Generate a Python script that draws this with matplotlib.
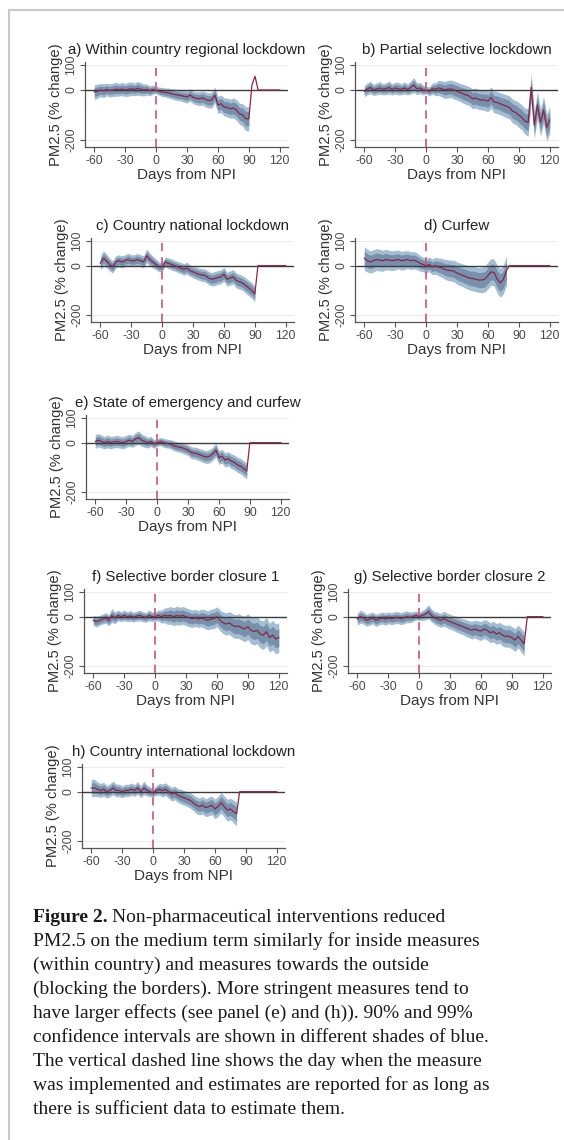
import numpy as np
import matplotlib.pyplot as plt
from matplotlib.lines import Line2D

# days from NPI, every 3 days
days = list(range(-60, 121, 3))

titles = ["a) Within country regional lockdown", "b) Partial selective lockdown",
          "c) Country national lockdown", "d) Curfew",
          "e) State of emergency and curfew",
          "f) Selective border closure 1", "g) Selective border closure 2",
          "h) Country international lockdown"]

# point estimates (% change of PM2.5)
est_a = [-8, -5, 0, -3, 2, -2, 0, 3, 1, 4, 0, 3, 5, 2, 7, 3, 0, 2, -3, 2, 0,
         -5, -8, -10, -12, -15, -18, -20, -22, -25, -28,
         -20, -30, -33, -35, -32, -38, -42, -40, -20, -60,
         -55, -68, -70, -75, -72, -80, -95, -100, -115, -115,
         20, 55, 0, 0, 0, 0, 0, 0, 0, 0]
est_b = [-5, 5, 10, 0, 5, 8, 3, 5, 10, 2, 8, 5, 3, 8, 2, 10, 20, 5, 8, 0, 0,
         -5, 5, 3, 8, 5, 0, 3, 5, 0, -5,
         -10, -15, -20, -25, -35, -32, -38, -40, -40, -45,
         -30, -48, -50, -55, -60, -65, -70, -85, -90, -100,
         -110, -125, -130, 10, -140, -60, -130, -80, -150, -120]
est_c = [10, 30, 20, 5, -5, 15, 20, 15, 20, 25, 20, 20, 25, 20, 15, 40, 25, 15, 5, -5, -5,
         15, 10, 5, 0, -5, -10, -15, -10, -20, -25,
         -30, -35, -38, -40, -50, -55, -52, -48, -45, -35,
         -55, -50, -45, -60, -65, -70, -80, -90, -100, -115,
         0, 0, 0, 0, 0, 0, 0, 0, 0, 0]
est_d = [30, 20, 15, 20, 25, 22, 20, 25, 22, 20, 22, 25, 20, 22, 25, 20, 22, 18, 10, 5, 0,
         5, -5, 0, -5, -8, -15, -18, -20, -22, -30,
         -35, -40, -45, -50, -52, -55, -58, -58, -55, -40,
         -25, -28, -55, -70, -55, -20, 0, 0, 0, 0,
         0, 0, 0, 0, 0, 0, 0, 0, 0, 0]
est_e = [5, 10, 5, 0, 5, 0, 3, 5, 2, 0, 5, 10, 5, 15, 20, 10, 5, 0, 5, -5, 0,
         5, 0, -3, -5, -10, -15, -18, -20, -25, -30,
         -40, -42, -45, -50, -55, -58, -55, -45, -30, -60,
         -55, -70, -65, -75, -80, -90, -95, -105, -115, 0,
         0, 0, 0, 0, 0, 0, 0, 0, 0, 0]
est_f = [-15, -20, -15, -10, -5, -15, 5, -5, 5, 0, 5, 0, 3, -2, 2, 5, 0, -3, 5, 0, 0,
         5, 0, 5, 3, 5, 0, 5, 2, 5, 0,
         -5, -8, -5, -10, -5, -10, -15, -10, -8, 0,
         -15, -25, -30, -25, -35, -40, -38, -45, -50, -40,
         -55, -60, -55, -70, -75, -60, -85, -75, -90, -85]
est_g = [-10, 0, -5, -15, -10, -5, -15, -10, -5, -10, -5, -8, -5, -3, -8, -5, 0, -3, 0, 5, 0,
         5, 10, 20, 5, -5, -10, -15, -8, -15, -20,
         -25, -30, -35, -40, -45, -50, -55, -50, -55, -58,
         -50, -55, -65, -60, -70, -65, -75, -80, -78, -85,
         -95, -80, -95, -110, 0, 0, 0, 0, 0, 0]
est_h = [15, 15, 10, 5, 10, 0, 5, 15, 5, 5, 0, 5, 5, 10, 5, 15, 0, 15, 5, 0, -5,
         5, 10, 5, 10, 0, -10, -5, -15, -20, -25,
         -30, -35, -45, -55, -60, -55, -65, -60, -55, -70,
         -60, -45, -60, -75, -70, -80, -90, 0, 0, 0,
         0, 0, 0, 0, 0, 0, 0, 0, 0, 0]

# half widths of the 99% confidence band
w99_a = [30, 28, 26, 28, 25, 27, 26, 28, 25, 27, 26, 28, 27, 25, 28, 26, 24, 22, 20, 18, 15,
         16, 18, 18, 20, 20, 22, 22, 22, 24, 24,
         25, 25, 26, 28, 28, 30, 30, 32, 32, 34,
         35, 36, 38, 38, 40, 42, 42, 45, 48, 48,
         0, 0, 0, 0, 0, 0, 0, 0, 0, 0]
w99_b = [22, 24, 25, 22, 24, 25, 22, 24, 26, 22, 24, 25, 22, 24, 22, 26, 30, 24, 22, 20, 15,
         18, 22, 26, 30, 32, 34, 35, 35, 36, 36,
         36, 38, 38, 38, 40, 40, 40, 40, 42, 42,
         42, 44, 44, 44, 45, 46, 46, 48, 48, 50,
         50, 52, 55, 55, 55, 55, 55, 55, 55, 55]
w99_c = [28, 30, 28, 26, 25, 25, 24, 25, 24, 25, 24, 24, 25, 24, 25, 28, 26, 24, 22, 20, 18,
         20, 22, 22, 22, 22, 23, 23, 24, 24, 24,
         25, 25, 26, 26, 27, 27, 28, 28, 28, 28,
         28, 29, 29, 30, 30, 30, 31, 31, 32, 32,
         0, 0, 0, 0, 0, 0, 0, 0, 0, 0]
w99_d = [48, 46, 45, 45, 44, 44, 42, 42, 40, 40, 40, 38, 38, 38, 36, 36, 35, 34, 32, 30, 28,
         30, 32, 34, 36, 38, 40, 42, 42, 44, 45,
         46, 46, 48, 48, 50, 50, 50, 52, 52, 54,
         54, 55, 56, 58, 58, 60, 0, 0, 0, 0,
         0, 0, 0, 0, 0, 0, 0, 0, 0, 0]
w99_e = [28, 27, 26, 25, 26, 25, 24, 25, 24, 25, 24, 25, 24, 26, 28, 25, 24, 22, 20, 18, 15,
         16, 18, 18, 18, 20, 20, 20, 22, 22, 22,
         24, 24, 25, 25, 26, 26, 27, 27, 28, 28,
         28, 29, 29, 30, 30, 31, 31, 32, 32, 0,
         0, 0, 0, 0, 0, 0, 0, 0, 0, 0]
w99_f = [20, 22, 20, 20, 22, 22, 28, 24, 22, 20, 22, 20, 22, 20, 20, 22, 20, 20, 22, 20, 18,
         22, 26, 30, 34, 36, 36, 38, 36, 36, 36,
         36, 35, 35, 34, 36, 38, 38, 40, 40, 40,
         42, 44, 45, 46, 48, 48, 50, 50, 52, 52,
         54, 55, 55, 56, 58, 58, 58, 60, 60, 60]
w99_g = [25, 26, 25, 24, 25, 24, 25, 24, 24, 25, 24, 24, 25, 24, 24, 25, 24, 22, 20, 18, 16,
         20, 24, 28, 26, 26, 28, 28, 30, 30, 30,
         30, 32, 32, 32, 34, 34, 36, 36, 38, 38,
         38, 40, 40, 42, 42, 42, 44, 44, 45, 45,
         46, 46, 48, 48, 0, 0, 0, 0, 0, 0]
w99_h = [35, 35, 30, 28, 28, 26, 26, 28, 26, 25, 24, 25, 25, 25, 24, 26, 24, 28, 22, 20, 16,
         20, 24, 26, 26, 26, 28, 28, 28, 30, 30,
         30, 32, 32, 34, 34, 36, 36, 38, 38, 40,
         40, 42, 42, 44, 44, 46, 48, 0, 0, 0,
         0, 0, 0, 0, 0, 0, 0, 0, 0, 0]

# half widths of the 90% confidence band
w90_a = [18, 17, 16, 17, 15, 16, 16, 17, 15, 16, 16, 17, 16, 15, 17, 16, 14, 13, 12, 11, 9,
         10, 11, 11, 12, 12, 13, 13, 13, 14, 14,
         15, 15, 16, 17, 17, 18, 18, 19, 19, 20,
         21, 22, 23, 23, 24, 25, 25, 27, 29, 29,
         0, 0, 0, 0, 0, 0, 0, 0, 0, 0]
w90_b = [13, 14, 15, 13, 14, 15, 13, 14, 16, 13, 14, 15, 13, 14, 13, 16, 18, 14, 13, 12, 9,
         11, 13, 16, 18, 19, 20, 21, 21, 22, 22,
         22, 23, 23, 23, 24, 24, 24, 24, 25, 25,
         25, 26, 26, 26, 27, 28, 28, 29, 29, 30,
         30, 31, 33, 33, 33, 33, 33, 33, 33, 33]
w90_c = [17, 18, 17, 16, 15, 15, 14, 15, 14, 15, 14, 14, 15, 14, 15, 17, 16, 14, 13, 12, 11,
         12, 13, 13, 13, 13, 14, 14, 14, 14, 14,
         15, 15, 16, 16, 16, 16, 17, 17, 17, 17,
         17, 17, 17, 18, 18, 18, 19, 19, 19, 19,
         0, 0, 0, 0, 0, 0, 0, 0, 0, 0]
w90_d = [29, 28, 27, 27, 26, 26, 25, 25, 24, 24, 24, 23, 23, 23, 22, 22, 21, 20, 19, 18, 17,
         18, 19, 20, 22, 23, 24, 25, 25, 26, 27,
         28, 28, 29, 29, 30, 30, 30, 31, 31, 32,
         32, 33, 34, 35, 35, 36, 0, 0, 0, 0,
         0, 0, 0, 0, 0, 0, 0, 0, 0, 0]
w90_e = [17, 16, 16, 15, 16, 15, 14, 15, 14, 15, 14, 15, 14, 16, 17, 15, 14, 13, 12, 11, 9,
         10, 11, 11, 11, 12, 12, 12, 13, 13, 13,
         14, 14, 15, 15, 16, 16, 16, 16, 17, 17,
         17, 17, 17, 18, 18, 19, 19, 19, 19, 0,
         0, 0, 0, 0, 0, 0, 0, 0, 0, 0]
w90_f = [12, 13, 12, 12, 13, 13, 17, 14, 13, 12, 13, 12, 13, 12, 12, 13, 12, 12, 13, 12, 11,
         13, 16, 18, 20, 22, 22, 23, 22, 22, 22,
         22, 21, 21, 20, 22, 23, 23, 24, 24, 24,
         25, 26, 27, 28, 29, 29, 30, 30, 31, 31,
         32, 33, 33, 34, 35, 35, 35, 36, 36, 36]
w90_g = [15, 16, 15, 14, 15, 14, 15, 14, 14, 15, 14, 14, 15, 14, 14, 15, 14, 13, 12, 11, 10,
         12, 14, 17, 16, 16, 17, 17, 18, 18, 18,
         18, 19, 19, 19, 20, 20, 22, 22, 23, 23,
         23, 24, 24, 25, 25, 25, 26, 26, 27, 27,
         28, 28, 29, 29, 0, 0, 0, 0, 0, 0]
w90_h = [21, 21, 18, 17, 17, 16, 16, 17, 16, 15, 14, 15, 15, 15, 14, 16, 14, 17, 13, 12, 10,
         12, 14, 16, 16, 16, 17, 17, 17, 18, 18,
         18, 19, 19, 20, 20, 22, 22, 23, 23, 24,
         24, 25, 25, 26, 26, 28, 29, 0, 0, 0,
         0, 0, 0, 0, 0, 0, 0, 0, 0, 0]

ests = [est_a, est_b, est_c, est_d, est_e, est_f, est_g, est_h]
w99s = [w99_a, w99_b, w99_c, w99_d, w99_e, w99_f, w99_g, w99_h]
w90s = [w90_a, w90_b, w90_c, w90_d, w90_e, w90_f, w90_g, w90_h]

xticks = [-60, -30, 0, 30, 60, 90, 120]
yticks = [100, 0, -200]

caption = ["PM2.5 on the medium term similarly for inside measures",
           "(within country) and measures towards the outside",
           "(blocking the borders). More stringent measures tend to",
           "have larger effects (see panel (e) and (h)). 90% and 99%",
           "confidence intervals are shown in different shades of blue.",
           "The vertical dashed line shows the day when the measure",
           "was implemented and estimates are reported for as long as",
           "there is sufficient data to estimate them."]

W, H = 564, 1140
# axes boxes in pixels: left, right, top, bottom
boxes = [(85, 288, 62, 147), (355, 558, 62, 147),
         (91, 294, 238, 322), (355, 558, 238, 322),
         (86, 289, 415, 499),
         (84, 287, 589, 673), (348, 551, 589, 673),
         (82, 285, 764, 848)]

plt.rcParams['font.family'] = ['Liberation Sans', 'DejaVu Sans']
plt.rcParams['axes.unicode_minus'] = False
fig = plt.figure(figsize=(W / 100, H / 100), dpi=100)

x = np.array(days)
for i in range(8):
    l, r, t, b = boxes[i]
    ax = fig.add_axes([l / W, 1 - b / H, (r - l) / W, (b - t) / H])
    est = np.array(ests[i], dtype=float)
    w99 = np.array(w99s[i], dtype=float)
    w90 = np.array(w90s[i], dtype=float)
    ok = w99 > 0
    for yv in [100, -200]:
        ax.axhline(yv, color='#ececec', lw=0.8, zorder=0)
    ax.fill_between(x, est - w99, est + w99, where=ok, color='#a3bdd2', lw=0, zorder=1)
    ax.fill_between(x, est - w90, est + w90, where=ok, color='#7791ad', lw=0, zorder=2)
    ax.axhline(0, color='#3c3c3c', lw=1.0, zorder=3)
    ax.plot(x, est, color='#8e2347', lw=0.9, zorder=4)
    ax.axvline(0, color='#cc5473', lw=1.2, dashes=(5, 3.5), zorder=5)

    ax.set_xlim(-69, 128)
    ax.set_ylim(-228, 112)
    ax.set_xticks(xticks)
    ax.set_yticks(yticks)
    ax.set_yticklabels([str(v) for v in yticks], rotation=90, va='center')
    ax.tick_params(length=3.5, width=0.8, color='#555555', labelcolor='#4a4a4a',
                   labelsize=8.8, pad=2)
    for s in ['top', 'right']:
        ax.spines[s].set_visible(False)
    for s in ['left', 'bottom']:
        ax.spines[s].set_color('#555555')
        ax.spines[s].set_linewidth(0.9)
    ax.set_facecolor('none')

    ax.set_title(titles[i], fontsize=10.8, color='#222222', pad=6)
    ax.set_ylabel("PM2.5 (% change)", fontsize=10.6, color='#333333')
    ax.yaxis.set_label_coords(-22 / (r - l), 0.5)
    ax.set_xlabel("Days from NPI", fontsize=11, color='#333333', labelpad=0)
    ax.xaxis.set_label_coords(0.5, -21 / (b - t))

# caption
renderer = fig.canvas.get_renderer()
cap_x = 33 / W
y0 = 917
fs = 14
bold = fig.text(cap_x, 1 - y0 / H, "Figure 2.", fontsize=fs, fontweight='bold',
                family='Liberation Serif', va='center', color='#1a1a1a')
bb = bold.get_window_extent(renderer)
fig.text(bb.x1 / W + 4 / W, 1 - y0 / H, "Non-pharmaceutical interventions reduced",
         fontsize=fs, family='Liberation Serif', va='center', color='#1a1a1a')
for k, line in enumerate(caption):
    fig.text(cap_x, 1 - (y0 + 24 * (k + 1)) / H, line, fontsize=fs,
             family='Liberation Serif', va='center', color='#1a1a1a')

# frame lines at top and left
fig.add_artist(Line2D([9 / W, 1], [1 - 10 / H, 1 - 10 / H], color='#c8c8c8', lw=1.5))
fig.add_artist(Line2D([9 / W, 9 / W], [0, 1 - 10 / H], color='#c8c8c8', lw=1.5))

fig.savefig("out.png", dpi=100)
